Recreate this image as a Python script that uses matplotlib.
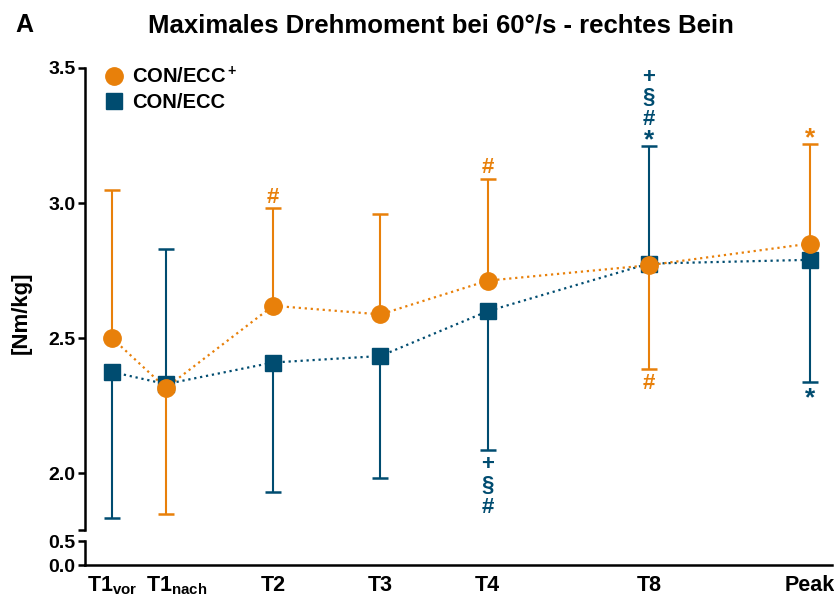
import numpy as np
import matplotlib
matplotlib.use("Agg")
import matplotlib.pyplot as plt
import matplotlib.transforms as mtransforms

plt.rcParams["font.family"] = ["Liberation Sans", "DejaVu Sans"]
plt.rcParams["font.weight"] = "bold"
plt.rcParams["mathtext.fontset"] = "custom"
plt.rcParams["mathtext.rm"] = "Liberation Sans:bold"
plt.rcParams["mathtext.bf"] = "Liberation Sans:bold"
plt.rcParams["mathtext.it"] = "Liberation Sans:bold"

ORANGE = "#E8800A"
BLUE = "#004C70"

# Messzeitpunkte
labels = [r"T1$_{\rm vor}$", r"T1$_{\rm nach}$", "T2", "T3", "T4", "T8", "Peak"]
x_pos = [0, 0.5, 1.5, 2.5, 3.5, 5, 6.5]

# CON/ECC+ (Mittelwert, SD, Richtung der Fehlerbalken: +1 oben, -1 unten)
plus_mean = [2.50, 2.316, 2.62, 2.588, 2.713, 2.77, 2.85]
plus_sd = [0.55, 0.465, 0.36, 0.372, 0.377, 0.384, 0.37]
plus_dir = [1, -1, 1, 1, 1, -1, 1]

# CON/ECC
con_mean = [2.375, 2.33, 2.41, 2.434, 2.60, 2.776, 2.79]
con_sd = [0.54, 0.50, 0.48, 0.452, 0.515, 0.436, 0.452]
con_dir = [-1, 1, -1, -1, -1, 1, -1]

# Signifikanzzeichen (Index, Symbole von innen nach außen)
plus_marks = {2: ["#"], 4: ["#"], 5: ["#"], 6: ["*"]}
con_marks = {4: ["+", "§", "#"], 5: ["*", "#", "§", "+"], 6: ["*"]}

# Verschiebung der Glyphenmitte gegenüber va="center" (Pixel, nach oben)
glyph_shift = {"*": 5.5, "#": 2.0, "+": 3.5, "§": 2.0}
glyph_size = {"*": 19, "#": 16, "+": 16, "§": 16}

fig = plt.figure(figsize=(8.34, 5.97), dpi=100)
ax = fig.add_axes([0.102, 0.1122, 0.896, 0.7739])
ax_low = fig.add_axes([0.102, 0.0536, 0.896, 0.0402])

xlim = (-0.252, 6.71)


def draw_group(mean, sd, direction, color, marker, size, z):
    mean = np.array(mean)
    sd = np.array(sd)
    d = np.array(direction)
    lo = np.where(d < 0, sd, 0)
    hi = np.where(d > 0, sd, 0)
    ax.errorbar(x_pos, mean, yerr=[lo, hi], fmt="none", ecolor=color,
                elinewidth=1.5, capsize=6, capthick=1.8, zorder=z)
    ax.plot(x_pos, mean, linestyle=(0, (1, 1.7)), color=color, lw=1.6, zorder=z + 1)
    ax.plot(x_pos, mean, linestyle="none", marker=marker, ms=size, color=color,
            zorder=z + 4)


def draw_marks(mean, sd, direction, marks, color):
    px = 72 / fig.dpi
    for i, syms in marks.items():
        end = mean[i] + direction[i] * sd[i]
        dist = 0
        prev = None
        for s in syms:
            if prev is None:
                dist = 13 if s == "#" else 11
            else:
                dist += 17 if prev == "*" else 22
            prev = s
            off = (direction[i] * dist - glyph_shift[s]) * px
            ax.annotate(s, xy=(x_pos[i], end), xytext=(0, off),
                        textcoords="offset points", ha="center", va="center",
                        fontsize=glyph_size[s], fontweight="bold", color=color,
                        annotation_clip=False)


draw_group(con_mean, con_sd, con_dir, BLUE, "s", 11.5, 2)
draw_group(plus_mean, plus_sd, plus_dir, ORANGE, "o", 12.5, 3)
draw_marks(plus_mean, plus_sd, plus_dir, plus_marks, ORANGE)
draw_marks(con_mean, con_sd, con_dir, con_marks, BLUE)

# oberer Teil der unterbrochenen y-Achse
ax.set_xlim(*xlim)
ax.set_ylim(1.79, 3.5)
ax.set_yticks([2.0, 2.5, 3.0, 3.5])
ax.set_yticks([1.79], minor=True)
ax.set_yticklabels(["2.0", "2.5", "3.0", "3.5"])
for s in ["top", "right", "bottom"]:
    ax.spines[s].set_visible(False)
ax.spines["left"].set_linewidth(1.8)
ax.tick_params(axis="y", which="both", length=5, width=1.8, labelsize=14, pad=2)
ax.tick_params(axis="x", bottom=False, labelbottom=False)
ax.set_ylabel("[Nm/kg]", fontsize=16, fontweight="bold")
ax.yaxis.set_label_coords(-0.072, 0.47)

# unterer Teil
ax_low.set_xlim(*xlim)
ax_low.set_ylim(0, 0.5)
ax_low.set_yticks([0.0, 0.5])
ax_low.set_yticklabels(["0.0", "0.5"])
ax_low.set_xticks(x_pos)
ax_low.set_xticklabels(labels)
for s in ["top", "right"]:
    ax_low.spines[s].set_visible(False)
ax_low.spines["left"].set_linewidth(1.8)
ax_low.spines["bottom"].set_linewidth(1.8)
ax_low.tick_params(axis="y", length=5, width=1.8, labelsize=14, pad=2)
ax_low.tick_params(axis="x", length=0, labelsize=15.5, pad=7)

# T1nach-Beschriftung etwas nach rechts, damit sie nicht an T1vor stößt
nach = ax_low.get_xticklabels()[1]
nach.set_transform(nach.get_transform()
                   + mtransforms.ScaledTranslation(11 / 100, 0, fig.dpi_scale_trans))

# Legende
handles = [
    plt.Line2D([], [], ls="none", marker="o", ms=12.5, color=ORANGE),
    plt.Line2D([], [], ls="none", marker="s", ms=11.5, color=BLUE),
]
leg = ax.legend(handles, [r"CON/ECC$^{\rm +}$", "CON/ECC"], loc="upper left",
                bbox_to_anchor=(0.006, 1.035), frameon=False, fontsize=14.5,
                handlelength=1.0, handletextpad=0.4, labelspacing=0.3,
                borderaxespad=0.3)

fig.text(0.019, 0.958, "A", fontsize=18, fontweight="bold", va="center")
fig.text(0.529, 0.958, "Maximales Drehmoment bei 60°/s - rechtes Bein",
         fontsize=18.5, fontweight="bold", ha="center", va="center")

fig.savefig("out.png", dpi=100)
